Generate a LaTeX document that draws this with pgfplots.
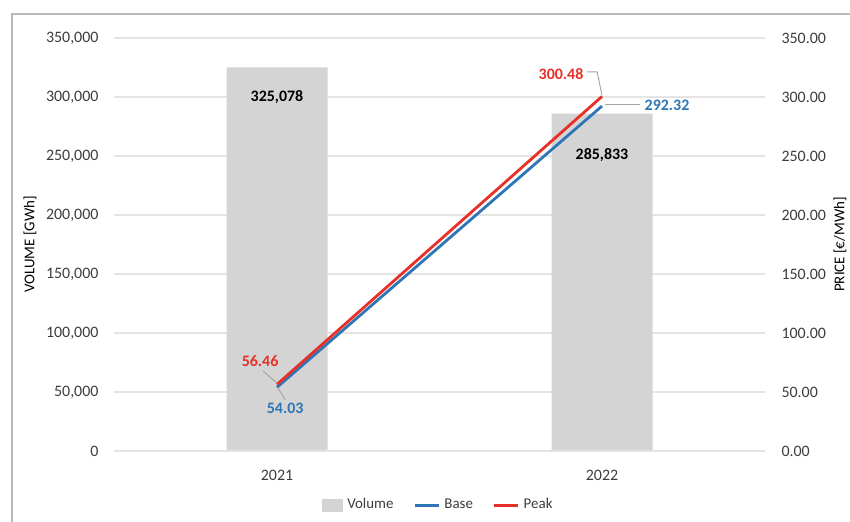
\documentclass[border=0pt]{standalone}
\usepackage{fontspec}
\setmainfont{Carlito}
\usepackage{pgfplots}
\pgfplotsset{compat=1.18}
\definecolor{barc}{RGB}{212,212,212}
\definecolor{basec}{RGB}{46,117,182}
\definecolor{peakc}{RGB}{232,48,40}
\definecolor{gridc}{RGB}{228,228,228}
\definecolor{txt}{RGB}{60,60,60}
\definecolor{framec}{RGB}{185,185,185}
\definecolor{leadc}{RGB}{165,165,165}
\pgfplotsset{
  basestyle/.style={
    scale only axis, width=325bp, height=206.5bp,
    at={(57.25bp,35.5bp)}, anchor=south west,
    xmin=-0.5, xmax=1.5, ymin=0,
    tick style={draw=none},
    axis line style={draw=none},
    tick label style={font=\fontsize{8}{9}\selectfont, text=txt},
    /pgf/number format/assume math mode=true,
    label style={font=\fontsize{7.5}{9}\selectfont, text=black},
  }
}
\begin{document}
\begin{tikzpicture}
\path[use as bounding box] (0,0) rectangle (425bp,261bp);
\draw[framec, line width=0.7bp] (6bp,-2bp) -- (6bp,254bp) -- (427bp,254bp);
\begin{axis}[basestyle,
  ymax=350000, ytick={0,50000,...,350000}, scaled y ticks=false,
  yticklabel style={xshift=-4.5bp, /pgf/number format/fixed, /pgf/number format/1000 sep={,}},
  ymajorgrids, grid style={gridc, line width=0.75bp},
  xtick={0,1}, xticklabels={2021,2022},
  xticklabel style={yshift=-6bp},
  ylabel={VOLUME [GWh]},
  ylabel style={at={(rel axis cs:-0.13,0.5)}, anchor=center},
]
\addplot[ybar, bar width=50.5bp, fill=barc, draw=none] coordinates {(0,325078) (1,285833)};
\draw[gridc!80!black!40, line width=0.75bp] (rel axis cs:0,0) -- (rel axis cs:1,0);
\node[font=\fontsize{8}{9}\selectfont\bfseries] at (axis cs:0,300000) {325,078};
\node[font=\fontsize{8}{9}\selectfont\bfseries] at (axis cs:1,251000) {285,833};
\end{axis}
\begin{axis}[basestyle,
  ymax=350, ytick={0,50,...,350},
  yticklabel pos=right,
  yticklabel style={xshift=5bp, /pgf/number format/fixed, /pgf/number format/fixed zerofill, /pgf/number format/precision=2},
  xtick=\empty,
  ylabel={PRICE [€/MWh]},
  ylabel style={at={(rel axis cs:1.116,0.5)}, anchor=center},
  legend columns=3,
  legend style={draw=none, fill=none, at={(0.5,-0.131)}, anchor=center,
    font=\fontsize{7.5}{9}\selectfont, text=txt,
    /tikz/every even column/.append style={column sep=8bp}},
  legend image code/.code={\draw[#1] (0bp,0bp) -- (12bp,0bp);},
]
\addlegendimage{legend image code/.code={\fill[barc] (0bp,-3bp) rectangle (10bp,3bp);}}
\addlegendentry{Volume}
\addplot[basec, line width=1.4bp] coordinates {(0,54.03) (1,292.32)};
\addlegendentry{Base}
\addplot[peakc, line width=1.4bp] coordinates {(0,56.46) (1,300.48)};
\addlegendentry{Peak}
\draw[leadc, line width=0.5bp] (axis cs:0.954,321.2) -- (axis cs:0.985,321.2) -- (axis cs:1,301.5);
\draw[leadc, line width=0.5bp] (axis cs:1.009,294) -- (axis cs:1.117,294);
\draw[leadc, line width=0.5bp] (axis cs:-0.043,67.8) -- (axis cs:0,57.5);
\draw[leadc, line width=0.5bp] (axis cs:0.004,53) -- (axis cs:0.025,43.5);
\node[peakc, font=\fontsize{8}{9}\selectfont\bfseries] at (axis cs:0.874,319.5) {300.48};
\node[basec, font=\fontsize{8}{9}\selectfont\bfseries] at (axis cs:1.2,293.2) {292.32};
\node[peakc, font=\fontsize{8}{9}\selectfont\bfseries] at (axis cs:-0.052,76.3) {56.46};
\node[basec, font=\fontsize{8}{9}\selectfont\bfseries] at (axis cs:0.025,36.4) {54.03};
\end{axis}
\end{tikzpicture}
\end{document}
